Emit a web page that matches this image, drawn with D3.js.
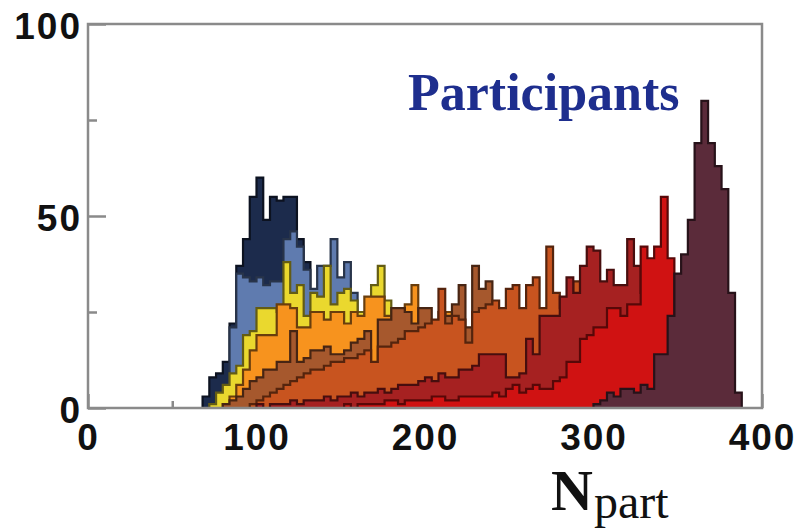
<!DOCTYPE html>
<html><head><meta charset="utf-8">
<script src="https://cdn.jsdelivr.net/npm/d3@7"></script>
<style>body{margin:0;background:#fff}svg{display:block}</style>
</head><body>
<svg id="chart" width="797" height="530"></svg>
<script>
// ---- data (Npart histograms, bin width 4) ----
const binWidth = 4;
const xTicks = [0, 100, 200, 300, 400];
const xMinorTicks = [50, 150, 250, 350];
const yTicks = [0, 50, 100];
const yMinorTicks = [25, 75];

const navyStart = 68;
const navy = [3,8,9,12,22,37,44,55,60,49,55,54,55,55,44,38,28,18,9,4,2,1];
const steelStart = 68;
const steel = [0,1,2,5,21,35,34,33,34,32,33,33,44,46,42,36,31,37,37,44,34,38,30,20,10,5,2,1];
const yellowStart = 72;
const yellow = [1,4,6,9,11,19,20,26,26,26,25,38,30,32,24,30,29,37,27,30,31,28,25,22,32,37,28,18,10,5,3,1];
const orangeStart = 80;
const orange = [1,3,6,10,15,19,19,19,27,27,26,21,21,25,25,23,25,25,22,25,24,29,29,29,24,22,20,27,32,20,16,15,18,25,10,5,2];
const siennaStart = 80;
const sienna = [1,2,3,5,7,8,10,10,12,12,20,12,13,15,15,16,14,14,15,17,18,20,11,23,23,26,26,25,22,26,26,22,25,24,27,32,21,37,31,33,18,8,3,1];
const burntStart = 96;
const burnt = [1,2,3,4,5,6,7,8,9,10,10,11,12,12,13,13,14,15,12,16,16,17,18,20,20,21,22,23,31,22,24,23,17,25,26,27,28,26,31,32,26,32,34,26,42,30,26,24,33,10,4,1];
const darkRedStart = 100;
const darkRed = [1,0,1,1,1,2,1,2,2,2,3,2,3,3,4,3,4,4,5,4,5,6,6,6,7,8,7,9,8,8,10,10,11,14,14,14,14,8,8,9,18,14,24,24,24,29,34,30,37,42,41,33,36,32,32,44,37,30,20,10,4,2];
const redStart = 152;
const red = [1,0,1,1,1,1,2,2,1,2,2,2,2,3,3,2,2,3,3,3,3,3,4,3,5,6,4,5,6,5,5,7,8,12,12,18,19,21,21,26,26,24,27,27,42,39,42,55,39,12,4,1];
const maroonStart = 300;
const maroon = [1,2,4,3,5,5,4,6,5,14,14,24,35,40,49,69,80,69,63,57,30,4];

const seriesStarts = [navyStart, steelStart, yellowStart, orangeStart, siennaStart, burntStart, darkRedStart, redStart, maroonStart];
const seriesValues = [navy, steel, yellow, orange, sienna, burnt, darkRed, red, maroon];
const seriesColors = ["#1c2b4c", "#5f7baf", "#ead82e", "#f7931e", "#a6582d", "#c8541f", "#a62121", "#d01212", "#5b2b3a"];

// ---- chart ----
const svg = d3.select("#chart");
const x = d3.scaleLinear().domain([0, 400]).range([88, 762]);
const y = d3.scaleLinear().domain([0, 100]).range([408, 24]);
const frameColor = "#8a8a8a";

// ticks (under the histograms)
const yAxis = svg.append("g").attr("transform", `translate(${x(0)},0)`)
  .call(d3.axisLeft(y).tickValues(yTicks).tickSize(-18).tickPadding(6));
const yMinor = svg.append("g").attr("transform", `translate(${x(0)},0)`)
  .call(d3.axisLeft(y).tickValues(yMinorTicks).tickSize(-9).tickFormat(""));
const xAxis = svg.append("g").attr("transform", `translate(0,${y(0)})`)
  .call(d3.axisBottom(x).tickValues(xTicks).tickSize(-14).tickPadding(16).tickFormat(d3.format("d")));
const xMinor = svg.append("g").attr("transform", `translate(0,${y(0)})`)
  .call(d3.axisBottom(x).tickValues(xMinorTicks).tickSize(-7).tickFormat(""));
[yAxis, yMinor, xAxis, xMinor].forEach(g => {
  g.select(".domain").remove();
  g.selectAll(".tick line").attr("stroke", frameColor).attr("stroke-width", 2.5);
  g.selectAll("text")
    .attr("fill", "#111")
    .style("font-family", "'Liberation Sans', Arial, sans-serif")
    .style("font-weight", "bold")
    .style("font-size", "37px")
    .style("letter-spacing", "2px");
});
yAxis.selectAll("text").attr("dy", "0.4em");

// histograms, peripheral at the back, central at the front
const area = d3.area()
  .curve(d3.curveStepAfter)
  .x(d => x(d[0]))
  .y0(y(0))
  .y1(d => y(d[1]));

seriesValues.forEach((vals, i) => {
  const start = seriesStarts[i];
  const pts = vals.map((v, j) => [start + j * binWidth, v]);
  pts.push([start + vals.length * binWidth, vals[vals.length - 1]]);
  const c = seriesColors[i];
  svg.append("path")
    .datum(pts)
    .attr("d", area)
    .attr("fill", c)
    .attr("stroke", d3.color(c).darker(2.4).formatHex())
    .attr("stroke-width", 2.2)
    .attr("stroke-linejoin", "miter");
});

// frame on top
svg.append("rect")
  .attr("x", x(0)).attr("y", y(100))
  .attr("width", x(400) - x(0)).attr("height", y(0) - y(100))
  .attr("fill", "none").attr("stroke", frameColor).attr("stroke-width", 2.5);

// labels
svg.append("text")
  .attr("x", 408).attr("y", 110)
  .attr("fill", "#1e2e8e")
  .style("font-family", "'Liberation Serif', 'Times New Roman', serif")
  .style("font-weight", "bold")
  .style("font-size", "52px")
  .text("Participants");

const xl = svg.append("text")
  .attr("x", 551).attr("y", 510)
  .attr("fill", "#111")
  .style("font-family", "'Liberation Serif', 'Times New Roman', serif");
xl.append("tspan").style("font-size", "58px").style("font-weight", "bold").text("N");
xl.append("tspan").attr("dy", 8).attr("dx", 1).style("font-size", "48px").text("part");
</script>
</body></html>
